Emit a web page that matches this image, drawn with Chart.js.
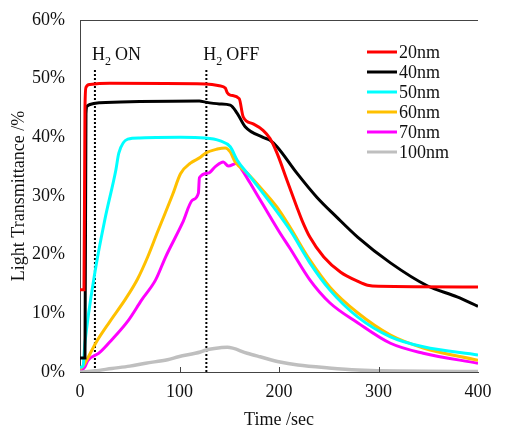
<!DOCTYPE html>
<html>
<head>
<meta charset="utf-8">
<script src="https://cdn.jsdelivr.net/npm/chart.js@4"></script>
<style>
  html, body { margin: 0; padding: 0; background: #fff; }
  #wrap { width: 505px; height: 437px; }
</style>
</head>
<body>
<div id="wrap"><canvas id="chart"></canvas></div>
<script>
// series: time in sec, transmittance in %
var t20 = [0, 4, 5, 6, 10, 30, 126, 140, 146, 148, 151, 160, 164, 174, 184, 191, 198, 208, 218, 223, 231, 245, 262, 280, 289, 300, 400];
var v20 = [14, 14, 45, 48.5, 49, 49.2, 49.1, 48.8, 48.4, 47.6, 47.2, 46.6, 43.5, 42.3, 41.2, 39.8, 37.3, 32.7, 28.1, 25.9, 23, 19.6, 17, 15.4, 14.8, 14.6, 14.5];

var t40 = [0, 5, 6, 7, 10, 20, 60, 120, 126, 140, 151, 158, 166, 184, 191, 198, 218, 238, 258, 279, 312, 349, 379, 400];
var v40 = [2.4, 2.4, 44, 45.3, 45.6, 45.9, 46.1, 46.2, 46, 45.7, 45.5, 44.1, 41.8, 40, 39.5, 38.4, 33.9, 29.8, 26.4, 23, 18.6, 14.7, 12.8, 11.2];

var t50 = [0, 3, 5, 15, 25, 36, 39, 48, 60, 101, 126, 141, 151, 158, 171, 211, 231, 251, 279, 312, 345, 400];
var v50 = [0.8, 1, 5, 17, 26, 34.4, 37.3, 39.7, 39.9, 40, 39.9, 39.4, 38.4, 36.1, 33.3, 24.2, 18.6, 14, 9.4, 6, 4.3, 2.9];

var t60 = [0, 3, 5, 16, 30, 46, 58, 68, 78, 93, 101, 111, 121, 126, 138, 146, 151, 156, 168, 181, 198, 211, 231, 251, 279, 312, 345, 400];
var v60 = [0.5, 1, 1.5, 5, 8.6, 12.5, 15.9, 19.6, 23.9, 30.2, 33.8, 35.6, 36.6, 37.3, 38, 38.2, 37.5, 35.8, 33.9, 31.5, 28.1, 24.7, 19.1, 14.5, 10.1, 6.3, 4.1, 2];

var t70 = [0, 3, 5, 8, 19, 32, 49, 62, 76, 86, 103, 113, 119, 120, 129, 136, 144, 149, 158, 163, 171, 184, 201, 211, 231, 251, 279, 312, 345, 400];
var v70 = [0.3, 0.5, 0.9, 2, 3.2, 5.5, 8.9, 12.3, 15.7, 19.6, 25.4, 29.3, 30.5, 33.1, 33.9, 35, 35.8, 35.1, 35.6, 34.4, 32.2, 28.5, 23.7, 21.1, 15.7, 11.8, 8.4, 4.9, 3.2, 1.5];

var t100 = [0, 15, 32, 50, 66, 88, 99, 121, 126, 135, 148, 168, 181, 201, 219, 250, 279, 320, 400];
var v100 = [0, 0.2, 0.6, 1, 1.5, 2.1, 2.6, 3.4, 3.7, 4, 4.2, 3.2, 2.6, 1.7, 1.2, 0.7, 0.35, 0.15, 0.1];

var seriesNames = ["20nm", "40nm", "50nm", "60nm", "70nm", "100nm"];
var seriesColors = ["#ff0000", "#000000", "#00ffff", "#ffc000", "#ff00ff", "#bfbfbf"];

var h2On = 15;
var h2Off = 127;
var markerTop = 51.6;

var yTicks = [0, 10, 20, 30, 40, 50, 60];
var xTicks = [0, 100, 200, 300, 400];

function pts(xs, ys) {
  return xs.map(function (x, i) { return { x: x, y: ys[i] }; });
}

var allT = [t20, t40, t50, t60, t70, t100];
var allV = [v20, v40, v50, v60, v70, v100];

var datasets = [];
// gray first so it sits underneath
[5, 0, 1, 2, 3, 4].forEach(function (i) {
  datasets.push({
    label: seriesNames[i],
    data: pts(allT[i], allV[i]),
    borderColor: seriesColors[i],
    borderWidth: i == 5 ? 3.5 : 3,
    showLine: true,
    pointRadius: 0,
    cubicInterpolationMode: "monotone"
  });
});
[h2On, h2Off].forEach(function (x) {
  datasets.push({
    label: "marker",
    data: [{ x: x, y: 0 }, { x: x, y: markerTop }],
    borderColor: "#000",
    borderWidth: 2,
    borderDash: [2, 2],
    showLine: true,
    pointRadius: 0
  });
});

var serif = "'Liberation Serif', 'DejaVu Serif', serif";

var decor = {
  id: "decor",
  afterDraw: function (chart) {
    var c = chart.ctx;
    var a = chart.chartArea;
    var xs = chart.scales.x;
    c.save();
    // top frame line
    c.strokeStyle = "#444";
    c.lineWidth = 1;
    c.beginPath();
    c.moveTo(a.left, Math.round(a.top) + 0.5);
    c.lineTo(a.right, Math.round(a.top) + 0.5);
    c.stroke();
    // small inward ticks on x axis
    xTicks.forEach(function (v) {
      if (v == 0 || v == 400) return;
      var px = Math.round(xs.getPixelForValue(v)) + 0.5;
      c.beginPath();
      c.moveTo(px, a.bottom);
      c.lineTo(px, a.bottom - 5);
      c.stroke();
    });

    // H2 labels
    c.fillStyle = "#111";
    c.textBaseline = "alphabetic";
    function h2(x, rest) {
      c.font = "18px " + serif;
      c.fillText("H", x, 60);
      var w = c.measureText("H").width;
      c.font = "12px " + serif;
      c.fillText("2", x + w, 65);
      var w2 = c.measureText("2").width;
      c.font = "18px " + serif;
      c.fillText(rest, x + w + w2 + 4, 60);
    }
    h2(xs.getPixelForValue(h2On) - 3, "ON");
    h2(xs.getPixelForValue(h2Off) - 3, "OFF");

    // legend
    c.font = "18px " + serif;
    c.textBaseline = "middle";
    seriesNames.forEach(function (n, i) {
      var y = 52 + i * 20;
      c.strokeStyle = seriesColors[i];
      c.lineWidth = 3;
      c.beginPath();
      c.moveTo(367, y);
      c.lineTo(397, y);
      c.stroke();
      c.fillStyle = "#111";
      c.fillText(n, 399, y + 1);
    });
    c.restore();
  }
};

var ctx = document.getElementById("chart").getContext("2d");

var chart = new Chart(ctx, {
  type: "scatter",
  data: { datasets: datasets },
  options: {
    responsive: true,
    maintainAspectRatio: false,
    animation: false,
    layout: { padding: { top: 20, right: 27, bottom: 0, left: 0 } },
    plugins: {
      legend: { display: false },
      tooltip: { enabled: false }
    },
    scales: {
      x: {
        type: "linear",
        min: 0,
        max: 400,
        afterBuildTicks: function (s) { s.ticks = xTicks.map(function (v) { return { value: v }; }); },
        grid: { display: false, drawTicks: false },
        border: { color: "#444", width: 1 },
        ticks: { color: "#111", font: { family: serif, size: 18 }, padding: 9, maxRotation: 0 },
        title: { display: true, text: "Time /sec", color: "#111", font: { family: serif, size: 18, weight: "normal" }, padding: { top: 0, bottom: 6 } },
        afterFit: function (s) { s.height = 65; s.paddingLeft = 0; s.paddingRight = 0; }
      },
      y: {
        min: 0,
        max: 60,
        afterBuildTicks: function (s) { s.ticks = yTicks.map(function (v) { return { value: v }; }); },
        grid: { display: false, drawTicks: false },
        border: { color: "#444", width: 1 },
        ticks: { color: "#111", font: { family: serif, size: 18 }, padding: 15, callback: function (v) { return v + "%"; } },
        title: { display: true, text: "Light Transmittance /%", color: "#111", font: { family: serif, size: 18, weight: "normal" }, padding: { top: 8, bottom: 0 } },
        afterFit: function (s) { s.width = 80; s.paddingTop = 0; s.paddingBottom = 0; }
      }
    }
  },
  plugins: [decor]
});
</script>
</body>
</html>
